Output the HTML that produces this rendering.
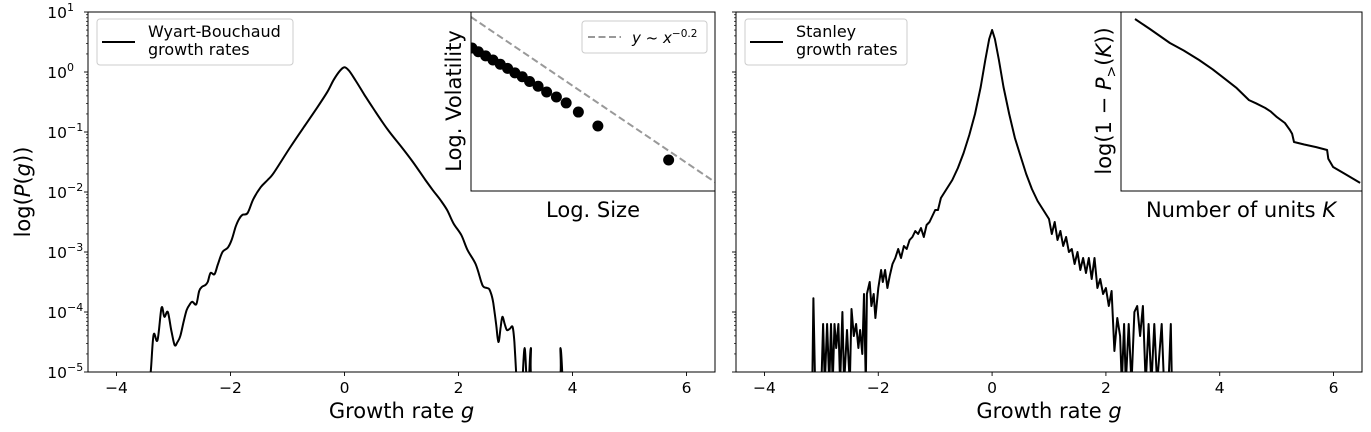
<!DOCTYPE html>
<html><head><meta charset="utf-8"><style>
body{margin:0;background:#fff}
svg{display:block;font-family:"DejaVu Sans","Liberation Sans",sans-serif}
</style></head><body>
<svg id="fig" width="1371" height="432" viewBox="0 0 1371 432"></svg>
<script>
// ---------- data ----------
const wbG = [-3.45,-3.40,-3.35,-3.28,-3.21,-3.16,-3.10,-3.04,-2.98,-2.93,-2.88,-2.82,-2.77,-2.72,-2.67,-2.60,-2.55,-2.50,-2.44,-2.40,-2.35,-2.28,-2.22,-2.14,-2.05,-1.98,-1.91,-1.85,-1.79,-1.70,-1.60,-1.47,-1.35,-1.24,-0.95,-0.70,-0.47,-0.30,-0.19,-0.08,0,0.08,0.2,0.35,0.5,0.75,1.0,1.2,1.42,1.55,1.68,1.80,1.91,2.05,2.16,2.30,2.40,2.44,2.50,2.54,2.58,2.61,2.66,2.70,2.74,2.77,2.81,2.85,2.90,2.95,2.98,3.01,3.02];
const wbLog = [-5.2,-5.0,-4.38,-4.47,-3.93,-4.08,-4.0,-4.3,-4.55,-4.5,-4.4,-4.15,-3.97,-3.88,-3.83,-3.87,-3.65,-3.58,-3.55,-3.5,-3.35,-3.37,-3.2,-3.0,-2.93,-2.8,-2.58,-2.45,-2.38,-2.35,-2.12,-1.92,-1.8,-1.68,-1.25,-0.9,-0.58,-0.33,-0.13,0.02,0.08,0.02,-0.15,-0.38,-0.6,-0.95,-1.25,-1.5,-1.8,-1.97,-2.13,-2.3,-2.52,-2.72,-2.97,-3.2,-3.5,-3.58,-3.6,-3.62,-3.72,-3.85,-4.2,-4.5,-4.25,-4.08,-4.2,-4.3,-4.28,-4.25,-4.5,-5.0,-5.2];
const wbBumpG = [3.12,3.16,3.20,3.23,3.27,3.31,3.75,3.79,3.83];
const wbBumpLog = [-5.2,-4.6,-5.2,-5.2,-4.6,-5.2,-5.2,-4.6,-5.2];

const stG = [-3.16,-3.14,-3.11,-3.0,-2.97,-2.94,-2.9,-2.86,-2.83,-2.8,-2.77,-2.74,-2.7,-2.67,-2.63,-2.6,-2.55,-2.5,-2.47,-2.43,-2.39,-2.35,-2.32,-2.28,-2.25,-2.22,-2.2,-2.15,-2.12,-2.08,-2.05,-2.0,-1.95,-1.92,-1.88,-1.84,-1.8,-1.75,-1.7,-1.65,-1.6,-1.55,-1.5,-1.45,-1.4,-1.35,-1.3,-1.25,-1.2,-1.15,-1.1,-1.0,-0.95,-0.9,-0.8,-0.7,-0.6,-0.5,-0.4,-0.3,-0.2,-0.12,-0.05,0,0.05,0.12,0.2,0.3,0.4,0.5,0.6,0.7,0.8,0.9,1.0,1.05,1.1,1.15,1.2,1.25,1.3,1.35,1.4,1.45,1.5,1.55,1.6,1.65,1.7,1.75,1.8,1.85,1.9,1.95,2.0,2.05,2.1,2.15,2.2,2.25,2.28,2.32,2.35,2.4,2.45,2.5,2.55,2.6,2.65,2.7,2.75,2.8,2.85,2.9,2.98,3.02,3.1,3.14,3.16];
const stLog = [-5.2,-3.77,-5.2,-5.2,-4.2,-5.2,-4.2,-5.2,-4.2,-5.2,-4.2,-4.6,-4.2,-5.2,-4.0,-5.2,-4.3,-5.2,-3.95,-4.4,-4.2,-4.6,-4.3,-4.7,-3.7,-5.2,-3.7,-3.5,-3.9,-3.7,-4.1,-3.6,-3.3,-3.5,-3.3,-3.6,-3.4,-3.2,-3.1,-2.95,-3.1,-2.9,-2.95,-2.8,-2.75,-2.65,-2.7,-2.6,-2.75,-2.55,-2.5,-2.3,-2.3,-2.1,-1.95,-1.8,-1.6,-1.35,-1.05,-0.7,-0.25,0.2,0.55,0.7,0.55,0.2,-0.25,-0.7,-1.1,-1.4,-1.7,-1.95,-2.15,-2.3,-2.45,-2.7,-2.5,-2.8,-2.65,-2.9,-2.75,-3.0,-2.95,-3.2,-3.0,-3.3,-3.1,-3.35,-3.1,-3.45,-3.1,-3.6,-3.45,-3.7,-3.6,-3.9,-3.65,-4.65,-4.1,-4.4,-5.2,-4.2,-5.2,-4.2,-5.2,-4.0,-3.9,-4.4,-3.9,-5.2,-4.2,-5.2,-4.2,-5.2,-4.2,-5.2,-5.2,-4.2,-5.2];

const insSize = [0.04,0.3,0.6,0.9,1.2,1.5,1.8,2.1,2.4,2.75,3.1,3.5,3.9,4.4,5.2,8.1];
const insVol  = [7.99,7.78,7.55,7.32,7.08,6.85,6.6,6.38,6.12,5.85,5.53,5.25,4.92,4.41,3.63,1.73];
const fitX = [0,10];
const fitY = [9.72,0.5];

const unitK = [0.58,1.2,2.03,2.6,3.24,3.8,4.27,4.8,5.31,5.6,5.98,6.2,6.47,6.8,7.01,7.1,7.18,7.6,8.1,8.55,8.6,8.8,9.3,9.92];
const unitP = [9.61,9.05,8.27,7.85,7.32,6.8,6.31,5.75,5.08,4.9,4.64,4.45,4.13,3.8,3.41,3.2,2.74,2.6,2.45,2.29,1.8,1.34,0.95,0.45];

const xTicks = [-4,-2,0,2,4,6];
const xTickLabels = ["\u22124","\u22122","0","2","4","6"];
const yExp = [1,0,-1,-2,-3,-4,-5];

// ---------- helpers ----------
const NS="http://www.w3.org/2000/svg";
const svg=document.getElementById('fig');
function mk(tag,attrs,parent,text){const e=document.createElementNS(NS,tag);for(const k in attrs)e.setAttribute(k,attrs[k]);if(text!==undefined)e.textContent=text;(parent||svg).appendChild(e);return e;}
const panels=[{x0:88,x1:715,name:'left'},{x0:736,x1:1362,name:'right'}];
const yTop=12,yBot=372;
function sx(p,g){return p.x0+(g+4.5)/11*(p.x1-p.x0);}
function sy(l){l=Math.max(l,-5.2);return yTop+(1-l)/6*(yBot-yTop);}
function path(xs,ys,fx,fy){return xs.map((v,i)=>(i?'L':'M')+fx(v).toFixed(1)+','+fy(ys[i]).toFixed(1)).join('');}
function smooth(xs,ys,fx,fy){
  const P=xs.map((v,i)=>[fx(v),fy(ys[i])]);
  let d='M'+P[0][0].toFixed(1)+','+P[0][1].toFixed(1);
  for(let i=0;i<P.length-1;i++){
    const p0=P[Math.max(i-1,0)],p1=P[i],p2=P[i+1],p3=P[Math.min(i+2,P.length-1)];
    const c1=[p1[0]+(p2[0]-p0[0])/6,p1[1]+(p2[1]-p0[1])/6];
    const c2=[p2[0]-(p3[0]-p1[0])/6,p2[1]-(p3[1]-p1[1])/6];
    d+='C'+c1.map(v=>v.toFixed(1)).join(',')+' '+c2.map(v=>v.toFixed(1)).join(',')+' '+p2.map(v=>v.toFixed(1)).join(',');
  }
  return d;
}

panels.forEach((p,pi)=>{
  const g=mk('g',{});
  
  
  const cp=mk('clipPath',{id:'clip'+pi},g);
  mk('rect',{x:p.x0,y:yTop,width:p.x1-p.x0,height:yBot-yTop},cp);
  xTicks.forEach((t,i)=>{
    const x=sx(p,t);
    mk('line',{x1:x,x2:x,y1:yBot,y2:yBot+4,stroke:'#000','stroke-width':0.9},g);
    const tl=mk('text',{x:x,y:yBot+21,'font-size':15.5,'text-anchor':'middle'},g,xTickLabels[i]);
    
    
  });
  yExp.forEach((e,i)=>{
    const y=sy(e);
    mk('line',{x1:p.x0-4,x2:p.x0,y1:y,y2:y,stroke:'#000','stroke-width':0.9},g);
    if(e>-5)for(let m=2;m<10;m++){const ym=sy(e-1+Math.log10(m));mk('line',{x1:p.x0-2,x2:p.x0,y1:ym,y2:ym,stroke:'#000','stroke-width':0.7},g);}
    if(pi===0){
      const tl=mk('text',{x:p.x0-21,y:y+6,'font-size':15.5,'text-anchor':'end'},g,'10');
      
      
      mk('text',{x:p.x0-21,y:y-1,'font-size':11,'text-anchor':'start'},g,e<0?'\u2212'+(-e):String(e));
    }
  });
  const xl=mk('text',{x:(p.x0+p.x1)/2,y:418,'font-size':21,'text-anchor':'middle'},g);
  
  
  mk('tspan',{},xl,'Growth rate ');
  mk('tspan',{'font-style':'italic'},xl,'g');
});
const yl=mk('text',{transform:'translate(30,192) rotate(-90)','font-size':21,'text-anchor':'middle'});


mk('tspan',{},yl,'log(');mk('tspan',{'font-style':'italic'},yl,'P');mk('tspan',{},yl,'(');mk('tspan',{'font-style':'italic'},yl,'g');mk('tspan',{},yl,'))');

const pL=panels[0],pR=panels[1];
const wb=mk('path',{d:smooth(wbG,wbLog,g=>sx(pL,g),sy),fill:'none',stroke:'#000','stroke-width':2,'stroke-linejoin':'round','clip-path':'url(#clip0)'});


const wbb=mk('path',{d:smooth(wbBumpG,wbBumpLog,g=>sx(pL,g),sy),fill:'none',stroke:'#000','stroke-width':2,'clip-path':'url(#clip0)'});


const st=mk('path',{d:path(stG,stLog,g=>sx(pR,g),sy),fill:'none',stroke:'#000','stroke-width':2,'stroke-linejoin':'round','clip-path':'url(#clip1)'});



panels.forEach(p=>{const f=mk('rect',{x:p.x0,y:yTop,width:p.x1-p.x0,height:yBot-yTop,fill:'none',stroke:'#000','stroke-width':1});
});

function legend(x,y,w,lines,name){
  const g=mk('g',{});
  
  
  mk('rect',{x:x,y:y,width:w,height:46,rx:3,fill:'#fff',stroke:'#ccc','stroke-width':1},g);
  mk('line',{x1:x+5,x2:x+38,y1:y+23,y2:y+23,stroke:'#000','stroke-width':2},g);
  mk('text',{x:x+51,y:y+18,'font-size':16},g,lines[0]);
  mk('text',{x:x+51,y:y+36,'font-size':16},g,lines[1]);
}
legend(97,19,196,['Wyart-Bouchaud','growth rates'],'legend-wyart-bouchaud');
legend(745,19,162,['Stanley','growth rates'],'legend-stanley');

// inset 1
const i1={x0:471,x1:715,y0:12,y1:191};
const ix=v=>i1.x0+v/10*(i1.x1-i1.x0), iy=v=>i1.y1-v/10*(i1.y1-i1.y0);
mk('rect',{x:i1.x0,y:i1.y0,width:i1.x1-i1.x0,height:i1.y1-i1.y0,fill:'#fff',stroke:'none'});
const cp2=mk('clipPath',{id:'clipi1'});mk('rect',{x:i1.x0,y:i1.y0,width:i1.x1-i1.x0,height:i1.y1-i1.y0},cp2);
const fit=mk('path',{d:path(fitX,fitY,ix,iy),stroke:'#999','stroke-width':2,'stroke-dasharray':'7,3.5',fill:'none','clip-path':'url(#clipi1)'});


insSize.forEach((v,i)=>{const c=mk('circle',{cx:ix(v),cy:iy(insVol[i]),r:5.5,fill:'#000','clip-path':'url(#clipi1)'});
});
mk('rect',{x:i1.x0,y:i1.y0,width:i1.x1-i1.x0,height:i1.y1-i1.y0,fill:'none',stroke:'#000','stroke-width':1});
const lg=mk('g',{});
mk('rect',{x:582,y:21,width:125,height:32,rx:3,fill:'#fff',stroke:'#ccc'},lg);
mk('line',{x1:588,x2:621,y1:37,y2:37,stroke:'#999','stroke-width':2,'stroke-dasharray':'7,3.5'},lg);
const lt=mk('text',{x:632,y:43,'font-size':15},lg);
mk('tspan',{'font-style':'italic'},lt,'y');mk('tspan',{},lt,' ~ ');mk('tspan',{'font-style':'italic'},lt,'x');mk('tspan',{dy:-6,'font-size':10.5},lt,'\u22120.2');
const i1x=mk('text',{x:593,y:217,'font-size':21,'text-anchor':'middle'},svg,'Log. Size');

const i1y=mk('text',{transform:'translate(461,101) rotate(-90)','font-size':21,'text-anchor':'middle'},svg,'Log. Volatility');


// inset 2
const i2={x0:1121,x1:1362,y0:12,y1:191};
const jx=v=>i2.x0+v/10*(i2.x1-i2.x0), jy=v=>i2.y1-v/10*(i2.y1-i2.y0);
mk('rect',{x:i2.x0,y:i2.y0,width:i2.x1-i2.x0,height:i2.y1-i2.y0,fill:'#fff',stroke:'#000','stroke-width':1});
const ul=mk('path',{d:path(unitK,unitP,jx,jy),fill:'none',stroke:'#000','stroke-width':2,'stroke-linejoin':'round'});

const i2x=mk('text',{x:1241,y:217,'font-size':21,'text-anchor':'middle'});

mk('tspan',{},i2x,'Number of units ');mk('tspan',{'font-style':'italic'},i2x,'K');
const i2y=mk('text',{transform:'translate(1111,101) rotate(-90)','font-size':21,'text-anchor':'middle'});

mk('tspan',{},i2y,'log(1 \u2212 ');mk('tspan',{'font-style':'italic'},i2y,'P');mk('tspan',{dy:5,'font-size':14},i2y,'>');mk('tspan',{dy:-5},i2y,'(');mk('tspan',{'font-style':'italic'},i2y,'K');mk('tspan',{},i2y,'))');
</script>
</body></html>
